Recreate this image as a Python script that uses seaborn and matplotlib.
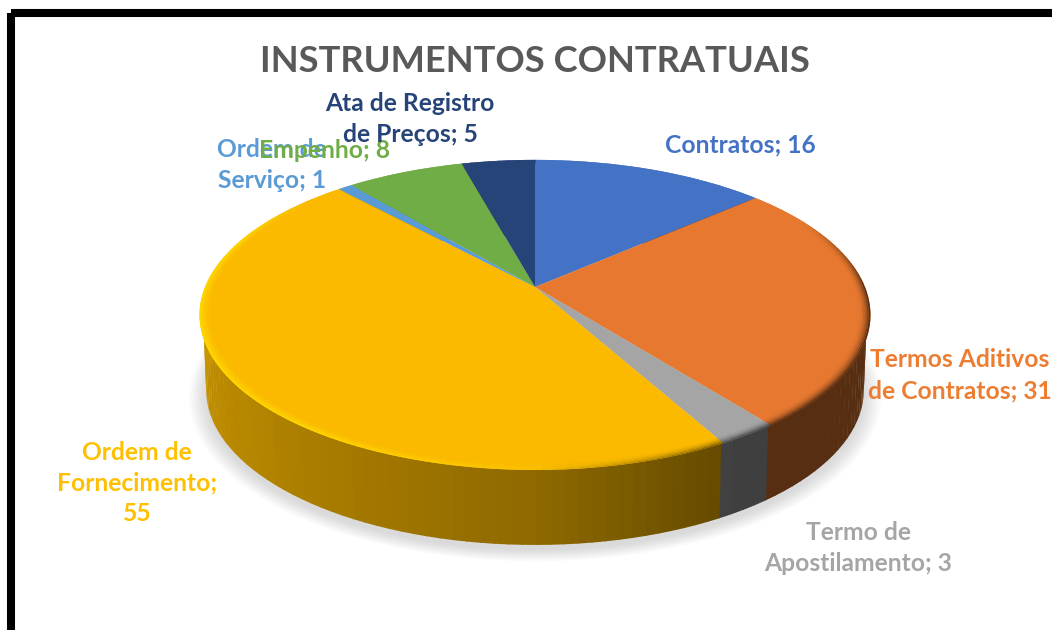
import numpy as np
import matplotlib
matplotlib.use("Agg")
import matplotlib.pyplot as plt
from matplotlib.collections import PolyCollection
from matplotlib.patches import Rectangle
from matplotlib.transforms import Transform
import seaborn as sns

categories = ["Contratos", "Termos Aditivos\nde Contratos", "Termo de\nApostilamento",
              "Ordem de\nFornecimento;\n", "Ordem de\nServiço", "Empenho", "Ata de Registro\nde Preços"]
values = [16, 31, 3, 55, 1, 8, 5]
hexes = ["#4472C4", "#E67830", "#A5A5A5", "#FBB900", "#5B9BD5", "#70AD47", "#264478"]
label_hexes = ["#4472C4", "#ED7D31", "#A5A5A5", "#FFC000", "#5B9BD5", "#70AD47", "#264478"]
label_xy = [(740, 145), (960, 375), (858, 548), (137, 483), (272, 165), (325, 151), (410, 119)]
title = "INSTRUMENTOS CONTRATUAIS"

sns.set_theme(style="white")
plt.rcParams["font.family"] = ["Lato", "DejaVu Sans"]
palette = sns.color_palette(hexes)

CX, CY, B, A, K = 535.0, 287.0, 330.0, 150.0, 0.18
DEPTH, BOT_SCALE = 75.0, 0.98


def project(x, y, scale=1.0, dy=0.0):
    d = 1 + K * y
    return CX + scale * B * x / d, CY + dy - A * y / d


class Perspective(Transform):
    input_dims = output_dims = 2

    def transform_non_affine(self, pts):
        pts = np.asarray(pts, float)
        return np.column_stack(project(pts[:, 0], pts[:, 1]))


def rim(theta, r=1.0, scale=1.0, dy=0.0):
    return np.column_stack(project(r * np.sin(theta), r * np.cos(theta), scale, dy))


fig = plt.figure(figsize=(10.52, 6.30), dpi=100)
ax = fig.add_axes([0, 0, 1, 1])

edges = np.cumsum([0] + values) / sum(values) * 2 * np.pi

# soft shadow under the pie
th = np.linspace(0, 2 * np.pi, 240)
for grow in np.linspace(1.05, 1.0, 10):
    pts = rim(th, r=grow, scale=BOT_SCALE, dy=DEPTH + 5)
    ax.fill(pts[:, 0], pts[:, 1], color="#909090", alpha=0.035, lw=0, zorder=1)

# side wall, shaded by angle
polys, cols = [], []
for i, col in enumerate(palette):
    n = max(2, int((edges[i + 1] - edges[i]) / 0.035))
    t = np.linspace(edges[i], edges[i + 1], n + 1)
    for a0, a1 in zip(t[:-1], t[1:]):
        mid = np.degrees((a0 + a1) / 2)
        m = np.interp(mid, [0, 148, 180, 230, 275, 360], [.38, .38, .57, .72, .82, .82])
        tt = np.linspace(a0, a1 + 0.004, 4)
        polys.append(np.vstack([rim(tt, r=0.99), rim(tt[::-1], scale=BOT_SCALE, dy=DEPTH)]))
        cols.append(tuple(np.array(col) * m))
ax.add_collection(PolyCollection(polys, facecolors=cols, edgecolors="none", zorder=2))

# top face
wedges, _ = ax.pie(values, colors=palette, startangle=90, counterclock=False, radius=1,
                   wedgeprops=dict(linewidth=0))
persp = Perspective()
for w in wedges:
    w.set_transform(persp + ax.transData)
    w.set_zorder(4)

# bevelled rim of the top face: brightens or darkens steadily towards the edge
polys, cols = [], []
rings = np.linspace(0.968, 1.0, 7)
hi = np.array([1.0, 0.86, 0.0])
for i, col in enumerate(palette):
    base = np.array(col)
    n = max(2, int((edges[i + 1] - edges[i]) / 0.03))
    t = np.linspace(edges[i], edges[i + 1], n + 1)
    for a0, a1 in zip(t[:-1], t[1:]):
        mid = np.degrees((a0 + a1) / 2)
        tt = np.linspace(a0, a1 + 0.003, 3)
        light = np.interp(mid, [0, 150, 175, 215, 290, 312, 360], [0, 0, .2, .85, .9, 0, 0])
        dark = np.interp(mid, [0, 62, 90, 110, 148, 180, 360], [0, 0, .6, .6, .55, 0, 0])
        for j, (r0, r1) in enumerate(zip(rings[:-1], rings[1:])):
            f = (j + 1) / (len(rings) - 1)
            s = light * f ** 1.5
            c = base * (1 - s) + hi * s
            c = c * (1 - dark * f ** 2)
            polys.append(np.vstack([rim(tt, r=r0), rim(tt[::-1], r=r1)]))
            cols.append(tuple(np.clip(c, 0, 1)))
ax.add_collection(PolyCollection(polys, facecolors=cols, edgecolors="none", zorder=5))

ax.set_aspect("auto")
ax.set_xlim(0, 1052)
ax.set_ylim(630, 0)
ax.axis("off")

# outer frame
ax.add_patch(Rectangle((11, 13), 1100, 700, fill=False, ec="black", lw=5.8, zorder=6))

ax.text(535, 61, title, ha="center", va="center", fontsize=26.2, fontweight="bold",
        color="#595959", zorder=7)
for name, v, xy, c in zip(categories, values, label_xy, label_hexes):
    txt = f"{name}{v}" if name.endswith("\n") else f"{name}; {v}"
    ax.text(xy[0], xy[1], txt, ha="center", va="center", fontsize=17.7, fontweight="bold",
            color=c, linespacing=1.42, zorder=7)

fig.savefig("out.png", dpi=100)
